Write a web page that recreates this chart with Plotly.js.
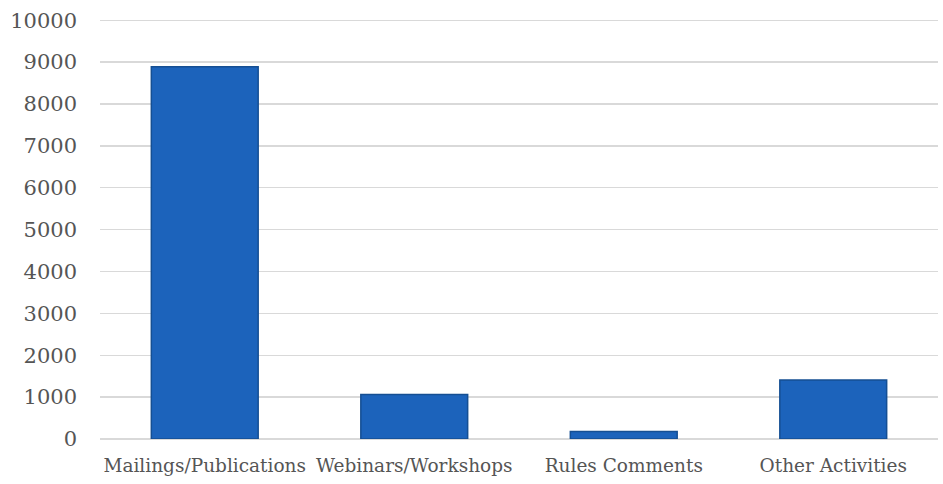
<!DOCTYPE html>
<html>
<head>
<meta charset="utf-8">
<script src="https://cdn.plot.ly/plotly-3.0.1.min.js"></script>
<style>html,body{margin:0;padding:0;background:#fff;}#chart{width:943px;height:484px;}</style>
</head>
<body>
<div id="chart"></div>
<script>
const categories = ["Mailings/Publications", "Webinars/Workshops", "Rules Comments", "Other Activities"];
const values = [8890, 1060, 180, 1410];
const yTicks = [0, 1000, 2000, 3000, 4000, 5000, 6000, 7000, 8000, 9000, 10000];

const trace = {
  type: "bar",
  x: categories,
  y: values,
  marker: { color: "#1c63bb", line: { color: "#154f93", width: 1.5 } },
  hoverinfo: "x+y"
};

const layout = {
  width: 943, height: 484,
  margin: { l: 100, r: 5, t: 19, b: 45 },
  paper_bgcolor: "#ffffff", plot_bgcolor: "#ffffff",
  bargap: 0.49,
  showlegend: false,
  font: { family: "DejaVu Serif, serif", color: "#595959" },
  xaxis: {
    type: "category",
    tickfont: { size: 18.5, color: "#555555", family: "DejaVu Serif, serif" },
    ticks: "", showgrid: false, showline: false, zeroline: false,
    ticklabelstandoff: 13, automargin: false
  },
  yaxis: {
    range: [0, 10030],
    tickvals: yTicks,
    ticktext: yTicks.map(String),
    tickfont: { size: 21, color: "#555555", family: "DejaVu Serif, serif" },
    showgrid: true, gridcolor: "#d9d9d9", gridwidth: 1.3,
    zeroline: true, zerolinecolor: "#d9d9d9", zerolinewidth: 1.5,
    showline: false, ticks: "", ticklabelstandoff: 22, automargin: false
  }
};

Plotly.newPlot("chart", [trace], layout, { displayModeBar: false, staticPlot: true });
</script>
</body>
</html>
